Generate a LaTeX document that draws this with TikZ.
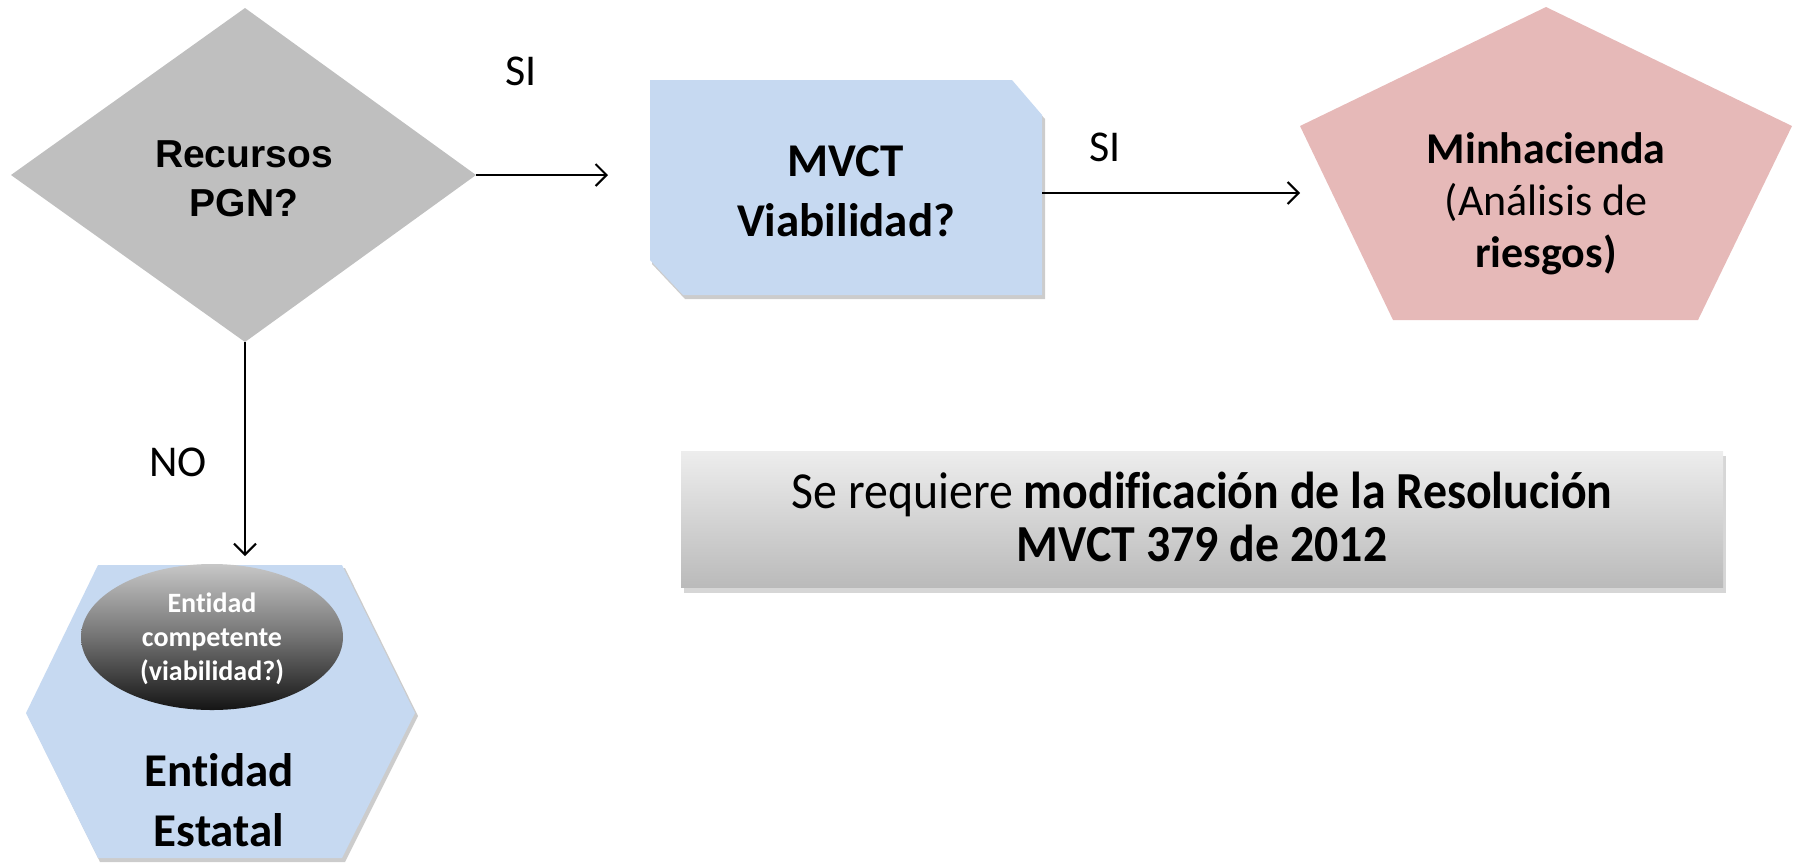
\documentclass[tikz,border=0pt]{standalone}
\usepackage{fontspec}
\setmainfont{Carlito}[Ligatures=NoCommon]
\newfontfamily\arialf{Liberation Sans}
\newfontfamily\notefont{Carlito}[FakeStretch=0.92, Ligatures=NoCommon]
\usetikzlibrary{arrows.meta}
\definecolor{dgray}{HTML}{BFBFBF}
\definecolor{lblue}{HTML}{C6D9F1}
\definecolor{lpink}{HTML}{E6B9B8}
\begin{document}
\begin{tikzpicture}[x=0.5pt,y=-0.5pt,
  conn/.style={line width=1pt, -{Straight Barb[length=5.5pt,width=11pt,line width=1pt]}},
  lbl/.style={font=\fontsize{22}{26}\selectfont, inner sep=0pt},
  shade1/.style={fill=black, opacity=0.2},
  txt/.style={align=center, inner sep=0pt}
]
\useasboundingbox (0,0) rectangle (1799,864);

% ---- diamond
\fill[dgray] (11,175) coordinate (dL) -- (245,8) coordinate (dT) -- (476,175) coordinate (dR) -- (245,342) coordinate (dB) -- cycle;
\node[txt, font=\arialf\bfseries\fontsize{19.5}{24.5}\selectfont] (dtext) at (244,179) {Recursos\\PGN?};

% ---- MVCT box
\fill[shade1] (652,84) -- (1014,84) -- (1045,119) -- (1045,299) -- (685,299) -- (652,264) -- cycle;
\fill[lblue] (650,80) -- (1012,80) -- (1042,115) -- (1042,295) -- (683,295) -- (650,260) -- cycle;
\node[txt, font=\bfseries\fontsize{23.5}{30}\selectfont] (mtext) at (846,191) {MVCT\\Viabilidad?};
\coordinate (mL) at (608,175);
\coordinate (mR) at (1042,193);

% ---- pentagon
\fill[lpink] (1546,7) -- (1792,126) -- (1698,320) -- (1393,320) -- (1300,126) -- cycle;
\node[txt, font=\fontsize{22}{26}\selectfont] (ptext) at (1546,204) {\textbf{Minhacienda}\\(Análisis de\\\textbf{riesgos)}};
\coordinate (pL) at (1300,193);

% ---- hexagon
\fill[shade1] (100,568) -- (345,568) -- (418,716) -- (345,862) -- (100,862) -- (28,716) -- cycle;
\fill[lblue] (98,565) -- (342,565) -- (415,713) -- (342,858) -- (98,858) -- (26,713) -- cycle;
\node[txt, font=\bfseries\fontsize{23.5}{30}\selectfont] (htext) at (219,800) {Entidad\\Estatal};
\coordinate (hT) at (245,556);

% ---- ellipse
\shade[top color=black!22, bottom color=black!92, middle color=black!55] (212,637) ellipse [x radius=131, y radius=73];
\node[txt, text=white, font=\bfseries\fontsize{14}{17}\selectfont] (etext) at (212,639) {Entidad\\competente\\(viabilidad?)};

% ---- note box
\fill[black, opacity=0.16] (684,456) rectangle (1726,593);
\shade[top color=black!7, bottom color=black!27] (681,451) rectangle (1723,587);
\node[txt, font=\notefont\fontsize{26}{26.5}\selectfont] (note) at (1202,517) {Se requiere \textbf{modificación de la Resolución}\\\textbf{MVCT 379 de 2012}};

% ---- connectors
\draw[conn] (dR) -- (mL);
\draw[conn] (mR) -- (pL);
\draw[conn] (dB) -- (hT);

% ---- labels
\node[lbl] (si1) at (521,71) {SI};
\node[lbl] (si2) at (1105,147) {SI};
\node[lbl] (no) at (178,462) {NO};
\end{tikzpicture}
\end{document}
